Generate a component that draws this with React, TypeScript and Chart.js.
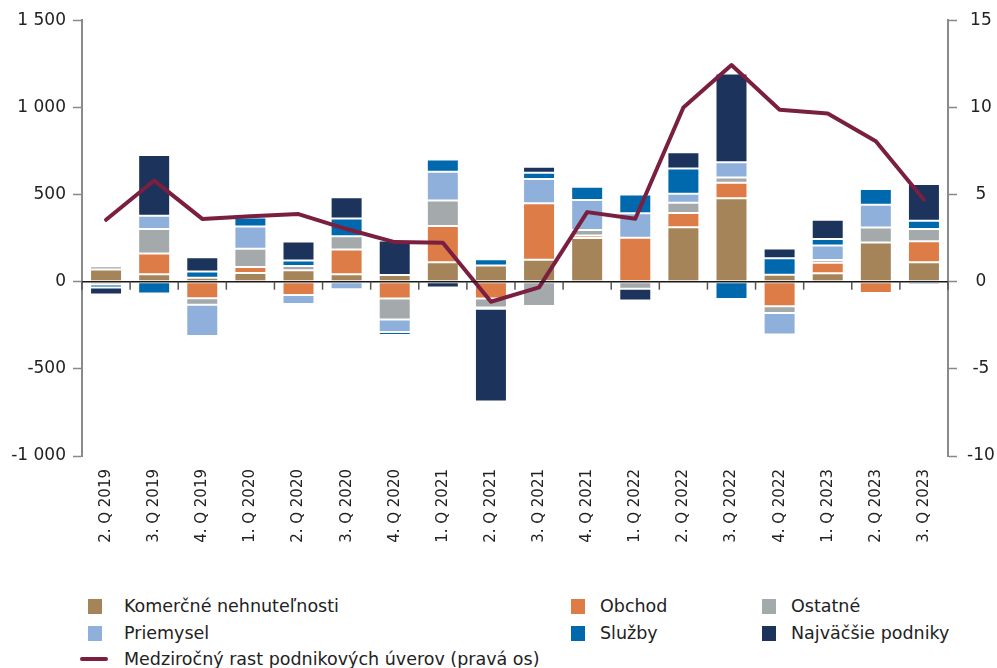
import React, { useEffect, useRef } from "react";
import { Chart, registerables } from "chart.js";

Chart.register(...registerables);

const categories = [
  "2. Q 2019", "3. Q 2019", "4. Q 2019", "1. Q 2020", "2. Q 2020", "3. Q 2020",
  "4. Q 2020", "1. Q 2021", "2. Q 2021", "3. Q 2021", "4. Q 2021", "1. Q 2022",
  "2. Q 2022", "3. Q 2022", "4. Q 2022", "1. Q 2023", "2. Q 2023", "3. Q 2023",
];

const komercne = [70, 43, 22, 50, 66, 42, 38, 112, 93, 126, 250, 0, 312, 478, 40, 48, 225, 112];
const obchod = [-16, 118, -95, 34, -77, 143, -97, 208, -97, 324, 15, 252, 82, 90, -141, 60, -65, 120];
const ostatne = [19, 141, -38, 105, 24, 76, -120, 145, -51, -139, 32, -40, 59, 29, -38, 17, 86, 70];
const priemysel = [11, 76, -179, 128, -51, -44, -72, 166, -8, 139, 171, 141, 51, 88, -124, 82, 130, -17];
const sluzby = [-17, -68, 36, 51, 32, 101, -17, 70, 36, 36, 76, 107, 145, -99, 95, 38, 90, 48];
const najvacsie = [-40, 349, 82, 0, 109, 122, 198, -34, -531, 34, 10, -68, 93, 509, 55, 110, -10, 211];
const rastUverov = [3.55, 5.8, 3.6, 3.75, 3.88, 3.02, 2.27, 2.23, -1.15, -0.33, 3.99, 3.61, 9.99, 12.43, 9.86, 9.65, 8.05, 4.7];

const leftTicks = [-1000, -500, 0, 500, 1000, 1500];
const rightTicks = [-10, -5, 0, 5, 10, 15];

const COLORS = {
  komercne: "#a5845a",
  obchod: "#dd7c47",
  ostatne: "#a4a9ab",
  priemysel: "#8fb0da",
  sluzby: "#0068ad",
  najvacsie: "#1c335c",
  line: "#7a1f3f",
};

const FONT = "'DejaVu Sans', sans-serif";

const fmt = (v: number) => {
  const s = Math.abs(v).toString().replace(/\B(?=(\d{3})+(?!\d))/g, " ");
  return (v < 0 ? "-" : "") + s;
};

const zeroLinePlugin = {
  id: "zeroLine",
  afterDatasetsDraw(chart: any) {
    const { ctx, chartArea, scales } = chart;
    const y = scales.y.getPixelForValue(0);
    const x = scales.x;
    ctx.save();
    ctx.strokeStyle = "#1a1a1a";
    ctx.lineWidth = 1.5;
    ctx.beginPath();
    ctx.moveTo(chartArea.left, y);
    ctx.lineTo(chartArea.right, y);
    ctx.stroke();
    ctx.strokeStyle = "#555";
    ctx.lineWidth = 1.5;
    const n = categories.length;
    for (let i = 0; i <= n; i++) {
      let px: number;
      if (i === 0) px = chartArea.left;
      else if (i === n) px = chartArea.right;
      else px = (x.getPixelForValue(i - 1) + x.getPixelForValue(i)) / 2;
      ctx.beginPath();
      ctx.moveTo(px, y);
      ctx.lineTo(px, y + 8);
      ctx.stroke();
    }
    ctx.restore();
  },
};

function ChartCanvas() {
  const ref = useRef<HTMLCanvasElement | null>(null);
  useEffect(() => {
    document.body.style.margin = "0";
    if (!ref.current) return;
    const barDs = (label: string, data: number[], color: string) => ({
      type: "bar" as const,
      label,
      data,
      backgroundColor: color,
      borderColor: "rgba(255,255,255,0.35)",
      borderWidth: 1,
      borderSkipped: false,
      yAxisID: "y",
      stack: "s",
      order: 2,
      categoryPercentage: 1,
      barPercentage: 0.665,
    });
    const chart = new Chart(ref.current, {
      type: "bar",
      data: {
        labels: categories,
        datasets: [
          {
            type: "line",
            label: "Medziročný rast podnikových úverov (pravá os)",
            data: rastUverov,
            borderColor: COLORS.line,
            borderWidth: 4,
            pointRadius: 0,
            tension: 0,
            borderCapStyle: "round",
            borderJoinStyle: "round",
            yAxisID: "y1",
            order: 0,
          } as any,
          barDs("Komerčné nehnuteľnosti", komercne, COLORS.komercne),
          barDs("Obchod", obchod, COLORS.obchod),
          barDs("Ostatné", ostatne, COLORS.ostatne),
          barDs("Priemysel", priemysel, COLORS.priemysel),
          barDs("Služby", sluzby, COLORS.sluzby),
          barDs("Najväčšie podniky", najvacsie, COLORS.najvacsie),
        ],
      },
      options: {
        responsive: false,
        animation: false,
        maintainAspectRatio: false,
        layout: { padding: { top: 16, left: 0, right: 0, bottom: 0 } },
        plugins: { legend: { display: false }, tooltip: { enabled: false } },
        scales: {
          x: {
            stacked: true,
            grid: { display: false, drawTicks: false },
            border: { display: false },
            ticks: {
              minRotation: 90,
              maxRotation: 90,
              autoSkip: false,
              padding: 13,
              color: "#222",
              font: { family: FONT, size: 15 },
            },
            afterFit: (s: any) => {
              s.height = 124;
            },
          },
          y: {
            stacked: true,
            position: "left",
            min: -1000,
            max: 1500,
            afterBuildTicks: (s: any) => {
              s.ticks = leftTicks.map((v) => ({ value: v }));
            },
            grid: {
              drawOnChartArea: false,
              drawTicks: true,
              tickLength: 9,
              tickColor: "#888",
              tickWidth: 1.5,
            },
            border: { display: true, color: "#8a8a8a", width: 2 },
            ticks: {
              padding: 7,
              color: "#222",
              font: { family: FONT, size: 17 },
              callback: (v: any) => fmt(Number(v)),
            },
            afterFit: (s: any) => {
              s.width = 82;
            },
          },
          y1: {
            position: "right",
            min: -10,
            max: 15,
            afterBuildTicks: (s: any) => {
              s.ticks = rightTicks.map((v) => ({ value: v }));
            },
            grid: {
              drawOnChartArea: false,
              drawTicks: true,
              tickLength: 9,
              tickColor: "#888",
              tickWidth: 1.5,
            },
            border: { display: true, color: "#8a8a8a", width: 2 },
            ticks: {
              padding: 10,
              crossAlign: "center",
              color: "#222",
              font: { family: FONT, size: 17 },
              callback: (v: any) => String(v),
            },
            afterFit: (s: any) => {
              s.width = 49;
            },
          },
        },
      },
      plugins: [zeroLinePlugin],
    } as any);
    return () => chart.destroy();
  }, []);
  return <canvas ref={ref} width={997} height={580} style={{ position: "absolute", left: 0, top: 0 }} />;
}

const legendItems = [
  { label: "Komerčné nehnuteľnosti", color: COLORS.komercne, x: 88, row: 0 },
  { label: "Obchod", color: COLORS.obchod, x: 571, row: 0 },
  { label: "Ostatné", color: COLORS.ostatne, x: 762, row: 0 },
  { label: "Priemysel", color: COLORS.priemysel, x: 88, row: 1 },
  { label: "Služby", color: COLORS.sluzby, x: 571, row: 1 },
  { label: "Najväčšie podniky", color: COLORS.najvacsie, x: 762, row: 1 },
];

const rowY = [606, 633, 659];

export default function App() {
  return (
    <div style={{ position: "relative", width: 997, height: 668, background: "#fff", fontFamily: FONT, color: "#222" }}>
      <ChartCanvas />
      {legendItems.map((it) => (
        <div key={it.label} style={{ position: "absolute", left: it.x, top: rowY[it.row] - 10, height: 20, display: "flex", alignItems: "center" }}>
          <span style={{ width: 14, height: 15, background: it.color, display: "inline-block", flex: "none" }} />
          <span style={{ marginLeft: it.x === 88 ? 22 : 15, fontSize: 17.5, whiteSpace: "nowrap" }}>{it.label}</span>
        </div>
      ))}
      <div style={{ position: "absolute", left: 80, top: rowY[2] - 10, height: 20, display: "flex", alignItems: "center" }}>
        <span style={{ width: 28, height: 4, borderRadius: 2, background: COLORS.line, display: "inline-block", flex: "none" }} />
        <span style={{ marginLeft: 16, fontSize: 17.5, whiteSpace: "nowrap" }}>Medziročný rast podnikových úverov (pravá os)</span>
      </div>
    </div>
  );
}
